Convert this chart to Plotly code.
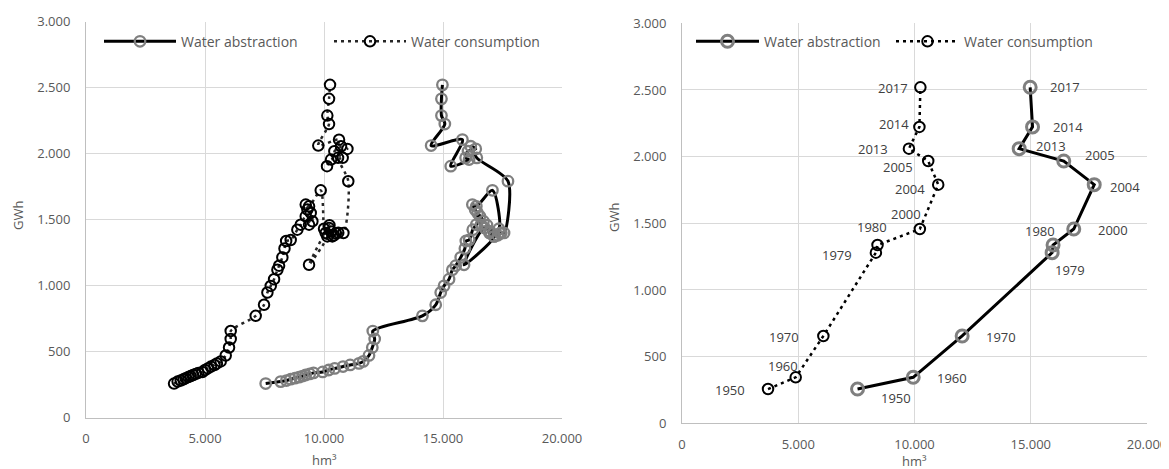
import plotly.graph_objects as go

# ---------------- data ----------------
years = [1950, 1951, 1952, 1953, 1954, 1955, 1956, 1957, 1958, 1959,
         1960, 1961, 1962, 1963, 1964, 1965, 1966, 1967, 1968, 1969,
         1970, 1971, 1972, 1973, 1974, 1975, 1976, 1977, 1978, 1979,
         1980, 1981, 1982, 1983, 1984, 1985, 1986, 1987, 1988, 1989,
         1990, 1991, 1992, 1993, 1994, 1995, 1996, 1997, 1998, 1999,
         2000, 2001, 2002, 2003, 2004, 2005, 2006, 2007, 2008, 2009,
         2010, 2011, 2012, 2013, 2014, 2015, 2016, 2017]

energy_gwh = [257, 272, 280, 290, 298, 306, 314, 322, 330, 338,
              345, 360, 372, 386, 398, 410, 425, 470, 530, 595,
              655, 770, 854, 947, 997, 1048, 1119, 1150, 1213, 1280,
              1337, 1345, 1423, 1461, 1524, 1487, 1550, 1461, 1575, 1613,
              1600, 1721, 1430, 1398, 1372, 1157, 1435, 1372, 1395, 1410,
              1457, 1380, 1400, 1398, 1790, 1967, 2055, 2035, 2017, 1967,
              1954, 1904, 2105, 2060, 2223, 2287, 2414, 2520]

consumption_hm3 = [3700, 3850, 3980, 4100, 4190, 4300, 4400, 4500, 4610, 4720,
                   4890, 5000, 5120, 5250, 5400, 5500, 5660, 5870, 6010, 6080,
                   6080, 7130, 7480, 7622, 7762, 7902, 8042, 8112, 8250, 8340,
                   8410, 8600, 8880, 9022, 9232, 9512, 9442, 9372, 9302, 9232,
                   9372, 9862, 10001, 10071, 10141, 9371, 10211, 10351, 10500, 10290,
                   10230, 10420, 10600, 10815, 11020, 10590, 10715, 10984, 10435, 10785,
                   10295, 10127, 10631, 9760, 10211, 10140, 10211, 10253]

abstraction_hm3 = [7550, 8180, 8420, 8600, 8780, 8950, 9100, 9230, 9400, 9560,
                   9945, 10200, 10450, 10800, 11100, 11470, 11650, 11890, 12030, 12130,
                   12050, 14135, 14694, 14904, 15044, 15254, 15394, 15534, 15744, 15920,
                   15960, 16100, 16250, 16400, 16550, 16700, 16450, 16600, 16350, 16234,
                   16400, 17077, 17350, 16950, 17150, 15884, 16750, 17147, 17400, 16980,
                   16850, 17300, 17450, 17565, 17730, 16420, 16166, 16376, 16050, 15950,
                   16096, 15325, 15816, 14502, 15077, 14935, 14935, 14975]

labelled_years = [1950, 1960, 1970, 1979, 1980, 2000, 2004, 2005, 2013, 2014, 2017]

x_ticks = [0, 5000, 10000, 15000, 20000]
y_ticks = [0, 500, 1000, 1500, 2000, 2500, 3000]

name_abs = "Water abstraction"
name_cons = "Water consumption"
x_title = "hm³"
y_title = "GWh"

# ---------------- layout geometry / styles ----------------
PAGE_OFF = 8            # default body margin of the html page
W, H = 1169 - PAGE_OFF, 469 - PAGE_OFF
FONT = "Open Sans"
TXT = "#595959"
GRID = "#d9d9d9"
GREY = "#7f7f7f"
DOTS = "3px,4px"


def fx(px):
    return (px - PAGE_OFF) / W


def fy(py):
    return 1 - (py - PAGE_OFF) / H


left_x = [fx(86), fx(562)]
left_y = [fy(417.5), fy(21.5)]
right_x = [fx(682), fx(1147)]
right_y = [fy(423.3), fy(23.3)]

# pixel offsets of the year labels (right panel)
cons_shift = {1950: (-38, -1), 1960: (-13, 11), 1970: (-39, -1), 1979: (-39, -2),
              1980: (-6, 18), 2000: (-14, 15), 2004: (-28, -4), 2005: (-30, -6),
              2013: (-36, 0), 2014: (-25, 3), 2017: (-27, -1)}
abs_shift = {1950: (38, -9), 1960: (39, -1), 1970: (39, -1), 1979: (18, -17),
             1980: (-13, 14), 2000: (39, -1), 2004: (31, -2), 2005: (36, 6),
             2013: (32, 3), 2014: (35, 0), 2017: (35, 0)}

idx = [years.index(y) for y in labelled_years]
sel_gwh = [energy_gwh[i] for i in idx]
sel_cons = [consumption_hm3[i] for i in idx]
sel_abs = [abstraction_hm3[i] for i in idx]

fig = go.Figure()

# left panel (all years, smoothed lines)
fig.add_trace(go.Scatter(
    x=abstraction_hm3, y=energy_gwh, name=name_abs, mode="lines+markers",
    line=dict(color="black", width=3, shape="spline", smoothing=0.8),
    marker=dict(symbol="circle", size=10.5, color="rgba(0,0,0,0)",
                line=dict(color=GREY, width=2.3)),
    xaxis="x", yaxis="y", legend="legend", cliponaxis=False))
fig.add_trace(go.Scatter(
    x=consumption_hm3, y=energy_gwh, name=name_cons, mode="lines+markers",
    line=dict(color="#262626", width=2.5, dash=DOTS, shape="spline", smoothing=0.8),
    marker=dict(symbol="circle", size=10.5, color="rgba(0,0,0,0)",
                line=dict(color="black", width=2)),
    xaxis="x", yaxis="y", legend="legend2", cliponaxis=False))

# right panel (selected years)
fig.add_trace(go.Scatter(
    x=sel_abs, y=sel_gwh, name=name_abs, mode="lines+markers",
    line=dict(color="black", width=3),
    marker=dict(symbol="circle", size=12, color="rgba(0,0,0,0)",
                line=dict(color=GREY, width=3)),
    xaxis="x2", yaxis="y2", legend="legend3", cliponaxis=False))
fig.add_trace(go.Scatter(
    x=sel_cons, y=sel_gwh, name=name_cons, mode="lines+markers",
    line=dict(color="black", width=2.5, dash=DOTS),
    marker=dict(symbol="circle", size=10.5, color="rgba(0,0,0,0)",
                line=dict(color="black", width=2)),
    xaxis="x2", yaxis="y2", legend="legend4", cliponaxis=False))

annotations = []
for yr, xv, yv in zip(labelled_years, sel_cons, sel_gwh):
    dx, dy = cons_shift[yr]
    annotations.append(dict(x=xv, y=yv, xref="x2", yref="y2", text=str(yr),
                            showarrow=False, xshift=dx, yshift=dy,
                            xanchor="center", yanchor="middle",
                            font=dict(family=FONT, size=13, color="#404040")))
for yr, xv, yv in zip(labelled_years, sel_abs, sel_gwh):
    dx, dy = abs_shift[yr]
    annotations.append(dict(x=xv, y=yv, xref="x2", yref="y2", text=str(yr),
                            showarrow=False, xshift=dx, yshift=dy,
                            xanchor="center", yanchor="middle",
                            font=dict(family=FONT, size=13, color="#404040")))

# axis titles
for xc, yc in [(18, 216), (614, 218)]:
    annotations.append(dict(x=fx(xc), y=fy(yc), xref="paper", yref="paper",
                            text=y_title, textangle=-90, showarrow=False,
                            xanchor="center", yanchor="middle",
                            font=dict(family=FONT, size=13, color=TXT)))
for xc, yc in [(324, 460), (914, 461)]:
    annotations.append(dict(x=fx(xc), y=fy(yc), xref="paper", yref="paper",
                            text=x_title, showarrow=False,
                            xanchor="center", yanchor="middle",
                            font=dict(family=FONT, size=13, color=TXT)))


def xax(dom, anchor):
    return dict(domain=dom, anchor=anchor, range=[0, 20000], tickvals=x_ticks,
                tickformat=",d", showgrid=True, gridcolor=GRID, gridwidth=1,
                zeroline=False, showline=True, linecolor="#bfbfbf", linewidth=1,
                ticks="", ticklabelstandoff=9, automargin=False,
                tickfont=dict(family=FONT, size=13, color=TXT), fixedrange=True)


def yax(dom, anchor):
    return dict(domain=dom, anchor=anchor, range=[0, 3000], tickvals=y_ticks,
                tickformat=",d", showgrid=True, gridcolor=GRID, gridwidth=1,
                zeroline=False, showline=True, linecolor="#bfbfbf", linewidth=1,
                ticks="", ticklabelstandoff=12, automargin=False,
                tickfont=dict(family=FONT, size=13, color=TXT), fixedrange=True)


legend_common = dict(orientation="h", xanchor="left", yanchor="middle",
                     bgcolor="rgba(0,0,0,0)", borderwidth=0,
                     font=dict(family=FONT, size=14, color=TXT),
                     y=fy(41.7))

fig.update_layout(
    width=W, height=H, autosize=False,
    margin=dict(l=0, r=0, t=0, b=0, pad=0, autoexpand=False),
    paper_bgcolor="white", plot_bgcolor="white",
    separators=",.",
    showlegend=True,
    xaxis=xax(left_x, "y"), yaxis=yax(left_y, "x"),
    xaxis2=xax(right_x, "y2"), yaxis2=yax(right_y, "x2"),
    legend=dict(legend_common, x=fx(99), itemwidth=72),
    legend2=dict(legend_common, x=fx(329), itemwidth=72),
    legend3=dict(legend_common, x=fx(691), itemwidth=63),
    legend4=dict(legend_common, x=fx(891), itemwidth=63),
    annotations=annotations,
)

fig.write_html("out.html")
